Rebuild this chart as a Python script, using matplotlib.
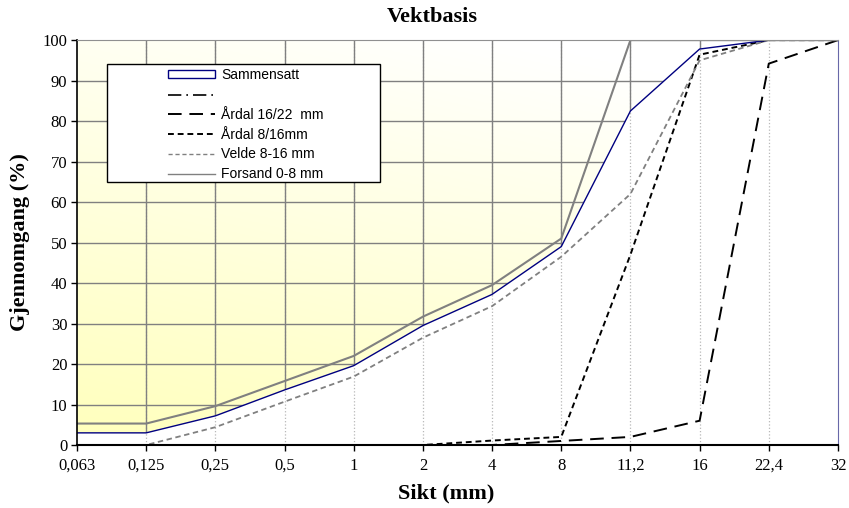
import numpy as np
import matplotlib
matplotlib.use("Agg")
import matplotlib.pyplot as plt
from matplotlib.patches import Polygon, Rectangle
from matplotlib.lines import Line2D

# ---------- Data ----------
sikt_labels = ["0,063", "0,125", "0,25", "0,5", "1", "2", "4", "8",
               "11,2", "16", "22,4", "32"]
sammensatt = [3.0, 3.0, 7.2, 13.6, 19.6, 29.5, 37.2, 49.0, 82.5, 97.8, 100, 100]
grense = [100, 100, 100, 100, 100, 100, 100, 100, 100, 100, 100, 100]
ardal_16_22 = [0, 0, 0, 0, 0, 0, 0, 1.0, 2.0, 6.0, 94.2, 100]
ardal_8_16 = [0, 0, 0, 0, 0, 0, 1.1, 2.0, 47.0, 96.4, 100, 100]
velde_8_16 = [0, 0, 4.4, 10.7, 16.9, 26.5, 34.3, 46.5, 62.0, 95.0, 100, 100]
forsand_0_8 = [5.3, 5.3, 9.6, 15.8, 22.0, 31.7, 39.5, 51.0, 100, 100, 100, 100]

x = np.arange(len(sikt_labels))
serif = ["Liberation Serif", "DejaVu Serif"]
sans = ["Liberation Sans", "DejaVu Sans"]

fig = plt.figure(figsize=(8.49, 5.08), dpi=100)
ax = fig.add_axes([0.0907, 0.124, 0.8963, 0.797])
ax.set_xlim(0, 11)
ax.set_ylim(0, 100)

# ---------- Background gradient (region above Sammensatt) ----------
verts = [(0, 100)] + list(zip(x, sammensatt)) + [(11, 100)]
clip = Polygon(verts, closed=True, transform=ax.transData, facecolor="none", edgecolor="none")
ax.add_patch(clip)

gx, gy = np.meshgrid(np.linspace(0, 1, 200), np.linspace(0, 1, 200))
t = np.clip(0.8 * gy + 0.35 * gx, 0, 1)
img = np.zeros((200, 200, 3))
img[..., 0] = 1.0
img[..., 1] = 1.0
img[..., 2] = (188 + (255 - 188) * t) / 255
im = ax.imshow(img, extent=(0, 11, 0, 100), origin="lower", aspect="auto", zorder=0)
im.set_clip_path(clip)

# dotted vertical lines everywhere, solid grid in the yellow area
ax.vlines(x[1:-1], 0, 100, colors="#b8b8b8", linestyles=":", linewidth=0.9, zorder=1)
vg = ax.vlines(x[1:-1], 0, 100, colors="#808080", linewidth=1.0, zorder=2)
vg.set_clip_path(clip)
hg = ax.hlines(np.arange(10, 100, 10), 0, 11, colors="#808080", linewidth=1.0, zorder=2)
hg.set_clip_path(clip)

# ---------- Series ----------
ax.plot(x, grense, color="black", linestyle=(0, (8, 3, 1, 3)), linewidth=1.2, zorder=3)
ax.plot(x, ardal_16_22, color="black", linestyle=(0, (7, 4)), linewidth=1.4, zorder=4)
ax.plot(x, ardal_8_16, color="black", linestyle=(0, (3, 2)), linewidth=1.4, zorder=4)
ax.plot(x, velde_8_16, color="#808080", linestyle=(0, (3, 2)), linewidth=1.3, zorder=4)
ax.plot(x, forsand_0_8, color="#808080", linewidth=1.5, zorder=5)
ax.plot(x, sammensatt, color="#000080", linewidth=1.0, zorder=6)

# ---------- Axes styling ----------
ax.set_xticks(x)
ax.set_xticklabels(sikt_labels, fontfamily=serif, fontsize=12)
ax.set_yticks(np.arange(0, 101, 10))
ax.set_yticklabels([str(v) for v in range(0, 101, 10)], fontfamily=serif, fontsize=12)
ax.tick_params(axis="both", direction="out", length=4, width=1, color="black")
ax.tick_params(axis="x", pad=5)
ax.tick_params(axis="y", pad=3)
ax.spines["left"].set_color("black")
ax.spines["bottom"].set_color("black")
ax.spines["left"].set_linewidth(1.2)
ax.spines["bottom"].set_linewidth(1.5)
ax.spines["top"].set_color("#909090")
ax.spines["right"].set_color("#6868a8")
for s in ax.spines.values():
    s.set_zorder(7)

fig.text(432 / 849, 1 - 17 / 508, "Vektbasis", family=serif, fontsize=16,
         fontweight="bold", ha="center", va="center")
fig.text(446 / 849, 1 - 493 / 508, "Sikt (mm)", family=serif, fontsize=16,
         fontweight="bold", ha="center", va="center")
fig.text(20 / 849, 1 - 242 / 508, "Gjennomgang (%)", family=serif, fontsize=16,
         fontweight="bold", ha="center", va="center", rotation=90)

# ---------- Legend ----------
box = Rectangle((107 / 849, 1 - 182 / 508), 273 / 849, 118 / 508, transform=fig.transFigure,
                facecolor="white", edgecolor="black", linewidth=1.0, zorder=10)
fig.patches.append(box)

handles = [
    Rectangle((0, 0), 1, 1, facecolor="white", edgecolor="#000080", linewidth=1.0),
    Line2D([], [], color="black", linestyle=(0, (8, 3, 1, 3)), linewidth=1.2),
    Line2D([], [], color="black", linestyle=(0, (7, 4)), linewidth=1.4),
    Line2D([], [], color="black", linestyle=(0, (3, 2)), linewidth=1.4),
    Line2D([], [], color="#808080", linestyle=(0, (3, 2)), linewidth=1.0),
    Line2D([], [], color="#808080", linewidth=1.0),
]
labels = ["Sammensatt", "", "Årdal 16/22  mm", "Årdal 8/16mm", "Velde 8-16 mm", "Forsand 0-8 mm"]
leg = fig.legend(handles, labels, loc="upper left", bbox_to_anchor=(157 / 849, 1 - 57 / 508),
                 frameon=False, prop={"family": sans, "size": 10}, handlelength=3.4,
                 handleheight=0.45, handletextpad=0.4, labelspacing=0.42, borderpad=0.3)
leg.set_zorder(11)

fig.savefig("out.png", dpi=100)
